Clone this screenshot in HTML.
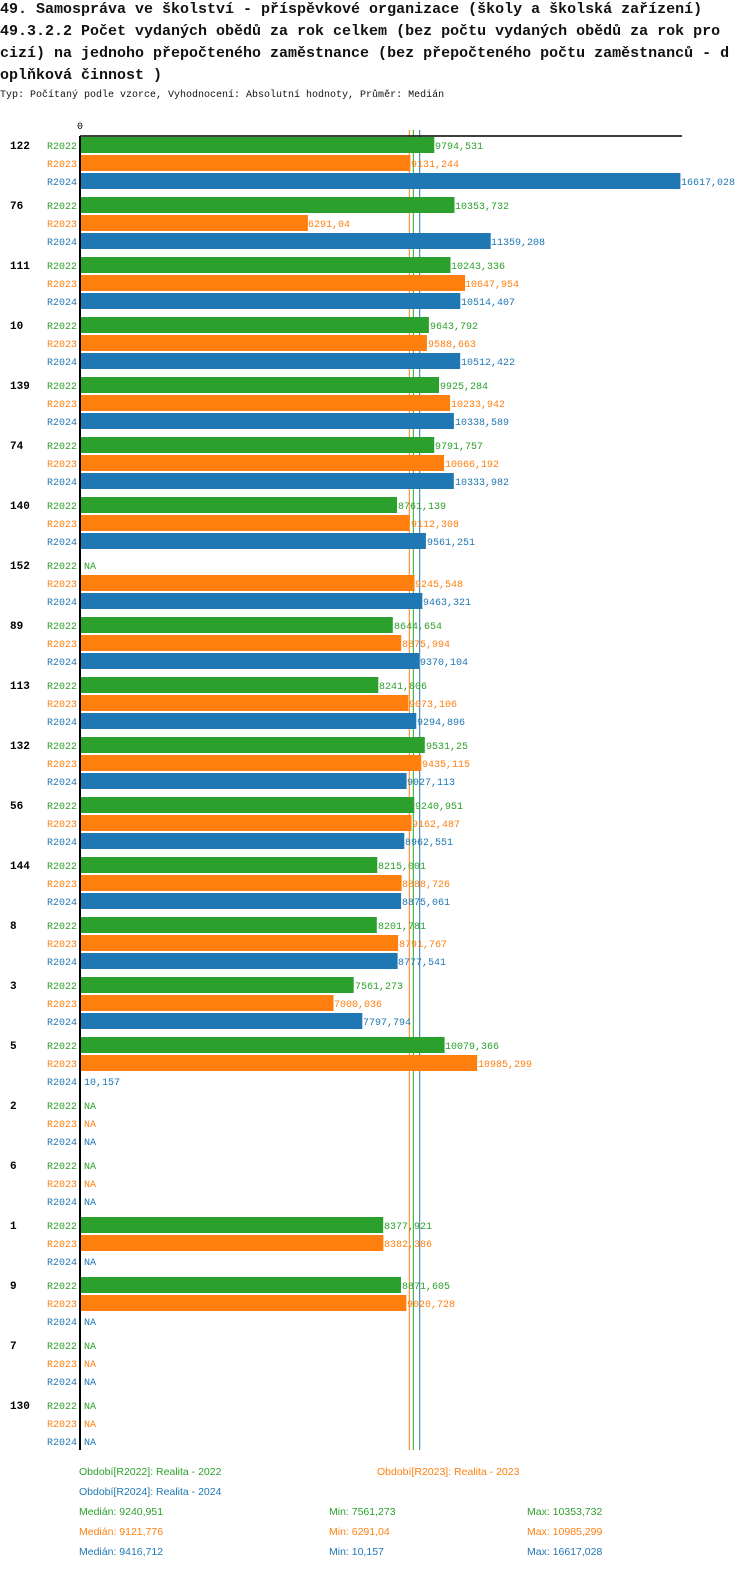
<!DOCTYPE html>
<html><head><meta charset="utf-8"><style>
body{margin:0;background:#fff;width:750px;height:1576px;overflow:hidden}
svg{display:block}
.t{font:bold 15px "Liberation Mono",monospace;fill:#111}
.s{font:10px "Liberation Mono",monospace;fill:#111}
text{font-family:"Liberation Mono",monospace;font-size:10px}
.g{fill:#2ca02c}.o{fill:#ff7f0e}.b{fill:#1f77b4}
.gl{font-weight:bold;fill:#000;font-size:11px}
.lg{font-family:"Liberation Sans",sans-serif;font-size:10.5px}
</style></head><body>
<svg width="750" height="1576" xmlns="http://www.w3.org/2000/svg">
<text class="t" x="0" y="13">49. Samospráva ve školství - příspěvkové organizace (školy a školská zařízení)</text>
<text class="t" x="0" y="35">49.3.2.2 Počet vydaných obědů za rok celkem (bez počtu vydaných obědů za rok pro</text>
<text class="t" x="0" y="57">cizí) na jednoho přepočteného zaměstnance (bez přepočteného počtu zaměstnanců - d</text>
<text class="t" x="0" y="79">oplňková činnost )</text>
<text class="s" x="0" y="97">Typ: Počítaný podle vzorce, Vyhodnocení: Absolutní hodnoty, Průměr: Medián</text>
<text x="77" y="129" fill="#000">0</text>

<line x1="409.3" y1="130" x2="409.3" y2="1450" stroke="#ff7f0e" stroke-width="1"/>
<line x1="413.3" y1="130" x2="413.3" y2="1450" stroke="#2ca02c" stroke-width="1"/>
<line x1="419.7" y1="130" x2="419.7" y2="1450" stroke="#1f77b4" stroke-width="1"/>
<line x1="80" y1="136" x2="682" y2="136" stroke="#000" stroke-width="1.5"/>

<g transform="translate(0,0)"><text class="gl" x="10" y="149">122</text>
<text class="g" x="47" y="149">R2022</text><rect class="g" x="81" y="137" width="353.3" height="16"/><text class="g" x="435" y="149">9794,531</text>
<text class="o" x="47" y="167">R2023</text><rect class="o" x="81" y="155" width="329.4" height="16"/><text class="o" x="411" y="167">9131,244</text>
<text class="b" x="47" y="185">R2024</text><rect class="b" x="81" y="173" width="599.4" height="16"/><text class="b" x="681" y="185">16617,028</text></g>

<g transform="translate(0,60)"><text class="gl" x="10" y="149">76</text>
<text class="g" x="47" y="149">R2022</text><rect class="g" x="81" y="137" width="373.5" height="16"/><text class="g" x="455" y="149">10353,732</text>
<text class="o" x="47" y="167">R2023</text><rect class="o" x="81" y="155" width="226.9" height="16"/><text class="o" x="308" y="167">6291,04</text>
<text class="b" x="47" y="185">R2024</text><rect class="b" x="81" y="173" width="409.7" height="16"/><text class="b" x="491" y="185">11359,208</text></g>

<g transform="translate(0,120)"><text class="gl" x="10" y="149">111</text>
<text class="g" x="47" y="149">R2022</text><rect class="g" x="81" y="137" width="369.5" height="16"/><text class="g" x="451" y="149">10243,336</text>
<text class="o" x="47" y="167">R2023</text><rect class="o" x="81" y="155" width="384.1" height="16"/><text class="o" x="465" y="167">10647,954</text>
<text class="b" x="47" y="185">R2024</text><rect class="b" x="81" y="173" width="379.3" height="16"/><text class="b" x="461" y="185">10514,407</text></g>

<g transform="translate(0,180)"><text class="gl" x="10" y="149">10</text>
<text class="g" x="47" y="149">R2022</text><rect class="g" x="81" y="137" width="347.9" height="16"/><text class="g" x="430" y="149">9643,792</text>
<text class="o" x="47" y="167">R2023</text><rect class="o" x="81" y="155" width="345.9" height="16"/><text class="o" x="428" y="167">9588,663</text>
<text class="b" x="47" y="185">R2024</text><rect class="b" x="81" y="173" width="379.2" height="16"/><text class="b" x="461" y="185">10512,422</text></g>

<g transform="translate(0,240)"><text class="gl" x="10" y="149">139</text>
<text class="g" x="47" y="149">R2022</text><rect class="g" x="81" y="137" width="358.0" height="16"/><text class="g" x="440" y="149">9925,284</text>
<text class="o" x="47" y="167">R2023</text><rect class="o" x="81" y="155" width="369.1" height="16"/><text class="o" x="451" y="167">10233,942</text>
<text class="b" x="47" y="185">R2024</text><rect class="b" x="81" y="173" width="372.9" height="16"/><text class="b" x="455" y="185">10338,589</text></g>

<g transform="translate(0,300)"><text class="gl" x="10" y="149">74</text>
<text class="g" x="47" y="149">R2022</text><rect class="g" x="81" y="137" width="353.2" height="16"/><text class="g" x="435" y="149">9791,757</text>
<text class="o" x="47" y="167">R2023</text><rect class="o" x="81" y="155" width="363.1" height="16"/><text class="o" x="445" y="167">10066,192</text>
<text class="b" x="47" y="185">R2024</text><rect class="b" x="81" y="173" width="372.8" height="16"/><text class="b" x="455" y="185">10333,982</text></g>

<g transform="translate(0,360)"><text class="gl" x="10" y="149">140</text>
<text class="g" x="47" y="149">R2022</text><rect class="g" x="81" y="137" width="316.0" height="16"/><text class="g" x="398" y="149">8761,139</text>
<text class="o" x="47" y="167">R2023</text><rect class="o" x="81" y="155" width="328.7" height="16"/><text class="o" x="411" y="167">9112,308</text>
<text class="b" x="47" y="185">R2024</text><rect class="b" x="81" y="173" width="344.9" height="16"/><text class="b" x="427" y="185">9561,251</text></g>

<g transform="translate(0,420)"><text class="gl" x="10" y="149">152</text>
<text class="g" x="47" y="149">R2022</text><text class="g" x="84" y="149">NA</text>
<text class="o" x="47" y="167">R2023</text><rect class="o" x="81" y="155" width="333.5" height="16"/><text class="o" x="415" y="167">9245,548</text>
<text class="b" x="47" y="185">R2024</text><rect class="b" x="81" y="173" width="341.3" height="16"/><text class="b" x="423" y="185">9463,321</text></g>

<g transform="translate(0,480)"><text class="gl" x="10" y="149">89</text>
<text class="g" x="47" y="149">R2022</text><rect class="g" x="81" y="137" width="311.8" height="16"/><text class="g" x="394" y="149">8644,654</text>
<text class="o" x="47" y="167">R2023</text><rect class="o" x="81" y="155" width="320.2" height="16"/><text class="o" x="402" y="167">8875,994</text>
<text class="b" x="47" y="185">R2024</text><rect class="b" x="81" y="173" width="338.0" height="16"/><text class="b" x="420" y="185">9370,104</text></g>

<g transform="translate(0,540)"><text class="gl" x="10" y="149">113</text>
<text class="g" x="47" y="149">R2022</text><rect class="g" x="81" y="137" width="297.3" height="16"/><text class="g" x="379" y="149">8241,806</text>
<text class="o" x="47" y="167">R2023</text><rect class="o" x="81" y="155" width="327.3" height="16"/><text class="o" x="409" y="167">9073,106</text>
<text class="b" x="47" y="185">R2024</text><rect class="b" x="81" y="173" width="335.3" height="16"/><text class="b" x="417" y="185">9294,896</text></g>

<g transform="translate(0,600)"><text class="gl" x="10" y="149">132</text>
<text class="g" x="47" y="149">R2022</text><rect class="g" x="81" y="137" width="343.8" height="16"/><text class="g" x="426" y="149">9531,25</text>
<text class="o" x="47" y="167">R2023</text><rect class="o" x="81" y="155" width="340.3" height="16"/><text class="o" x="422" y="167">9435,115</text>
<text class="b" x="47" y="185">R2024</text><rect class="b" x="81" y="173" width="325.6" height="16"/><text class="b" x="407" y="185">9027,113</text></g>

<g transform="translate(0,660)"><text class="gl" x="10" y="149">56</text>
<text class="g" x="47" y="149">R2022</text><rect class="g" x="81" y="137" width="333.3" height="16"/><text class="g" x="415" y="149">9240,951</text>
<text class="o" x="47" y="167">R2023</text><rect class="o" x="81" y="155" width="330.5" height="16"/><text class="o" x="412" y="167">9162,487</text>
<text class="b" x="47" y="185">R2024</text><rect class="b" x="81" y="173" width="323.3" height="16"/><text class="b" x="405" y="185">8962,551</text></g>

<g transform="translate(0,720)"><text class="gl" x="10" y="149">144</text>
<text class="g" x="47" y="149">R2022</text><rect class="g" x="81" y="137" width="296.3" height="16"/><text class="g" x="378" y="149">8215,001</text>
<text class="o" x="47" y="167">R2023</text><rect class="o" x="81" y="155" width="320.6" height="16"/><text class="o" x="402" y="167">8888,726</text>
<text class="b" x="47" y="185">R2024</text><rect class="b" x="81" y="173" width="320.1" height="16"/><text class="b" x="402" y="185">8875,061</text></g>

<g transform="translate(0,780)"><text class="gl" x="10" y="149">8</text>
<text class="g" x="47" y="149">R2022</text><rect class="g" x="81" y="137" width="295.8" height="16"/><text class="g" x="378" y="149">8201,781</text>
<text class="o" x="47" y="167">R2023</text><rect class="o" x="81" y="155" width="317.1" height="16"/><text class="o" x="399" y="167">8791,767</text>
<text class="b" x="47" y="185">R2024</text><rect class="b" x="81" y="173" width="316.6" height="16"/><text class="b" x="398" y="185">8777,541</text></g>

<g transform="translate(0,840)"><text class="gl" x="10" y="149">3</text>
<text class="g" x="47" y="149">R2022</text><rect class="g" x="81" y="137" width="272.7" height="16"/><text class="g" x="355" y="149">7561,273</text>
<text class="o" x="47" y="167">R2023</text><rect class="o" x="81" y="155" width="252.5" height="16"/><text class="o" x="334" y="167">7000,036</text>
<text class="b" x="47" y="185">R2024</text><rect class="b" x="81" y="173" width="281.3" height="16"/><text class="b" x="363" y="185">7797,794</text></g>

<g transform="translate(0,900)"><text class="gl" x="10" y="149">5</text>
<text class="g" x="47" y="149">R2022</text><rect class="g" x="81" y="137" width="363.6" height="16"/><text class="g" x="445" y="149">10079,366</text>
<text class="o" x="47" y="167">R2023</text><rect class="o" x="81" y="155" width="396.2" height="16"/><text class="o" x="478" y="167">10985,299</text>
<text class="b" x="47" y="185">R2024</text><text class="b" x="84" y="185">10,157</text></g>

<g transform="translate(0,960)"><text class="gl" x="10" y="149">2</text>
<text class="g" x="47" y="149">R2022</text><text class="g" x="84" y="149">NA</text>
<text class="o" x="47" y="167">R2023</text><text class="o" x="84" y="167">NA</text>
<text class="b" x="47" y="185">R2024</text><text class="b" x="84" y="185">NA</text></g>

<g transform="translate(0,1020)"><text class="gl" x="10" y="149">6</text>
<text class="g" x="47" y="149">R2022</text><text class="g" x="84" y="149">NA</text>
<text class="o" x="47" y="167">R2023</text><text class="o" x="84" y="167">NA</text>
<text class="b" x="47" y="185">R2024</text><text class="b" x="84" y="185">NA</text></g>

<g transform="translate(0,1080)"><text class="gl" x="10" y="149">1</text>
<text class="g" x="47" y="149">R2022</text><rect class="g" x="81" y="137" width="302.2" height="16"/><text class="g" x="384" y="149">8377,921</text>
<text class="o" x="47" y="167">R2023</text><rect class="o" x="81" y="155" width="302.4" height="16"/><text class="o" x="384" y="167">8382,386</text>
<text class="b" x="47" y="185">R2024</text><text class="b" x="84" y="185">NA</text></g>

<g transform="translate(0,1140)"><text class="gl" x="10" y="149">9</text>
<text class="g" x="47" y="149">R2022</text><rect class="g" x="81" y="137" width="320.0" height="16"/><text class="g" x="402" y="149">8871,605</text>
<text class="o" x="47" y="167">R2023</text><rect class="o" x="81" y="155" width="325.4" height="16"/><text class="o" x="407" y="167">9020,728</text>
<text class="b" x="47" y="185">R2024</text><text class="b" x="84" y="185">NA</text></g>

<g transform="translate(0,1200)"><text class="gl" x="10" y="149">7</text>
<text class="g" x="47" y="149">R2022</text><text class="g" x="84" y="149">NA</text>
<text class="o" x="47" y="167">R2023</text><text class="o" x="84" y="167">NA</text>
<text class="b" x="47" y="185">R2024</text><text class="b" x="84" y="185">NA</text></g>

<g transform="translate(0,1260)"><text class="gl" x="10" y="149">130</text>
<text class="g" x="47" y="149">R2022</text><text class="g" x="84" y="149">NA</text>
<text class="o" x="47" y="167">R2023</text><text class="o" x="84" y="167">NA</text>
<text class="b" x="47" y="185">R2024</text><text class="b" x="84" y="185">NA</text></g>

<line x1="80" y1="136" x2="80" y2="1450" stroke="#000" stroke-width="2"/>

<text class="lg g" x="79" y="1475">Období[R2022]: Realita - 2022</text>
<text class="lg o" x="377" y="1475">Období[R2023]: Realita - 2023</text>
<text class="lg b" x="79" y="1495">Období[R2024]: Realita - 2024</text>
<text class="lg g" x="79" y="1515">Medián: 9240,951</text>
<text class="lg g" x="329" y="1515">Min: 7561,273</text>
<text class="lg g" x="527" y="1515">Max: 10353,732</text>
<text class="lg o" x="79" y="1535">Medián: 9121,776</text>
<text class="lg o" x="329" y="1535">Min: 6291,04</text>
<text class="lg o" x="527" y="1535">Max: 10985,299</text>
<text class="lg b" x="79" y="1555">Medián: 9416,712</text>
<text class="lg b" x="329" y="1555">Min: 10,157</text>
<text class="lg b" x="527" y="1555">Max: 16617,028</text>
</svg>
</body></html>
